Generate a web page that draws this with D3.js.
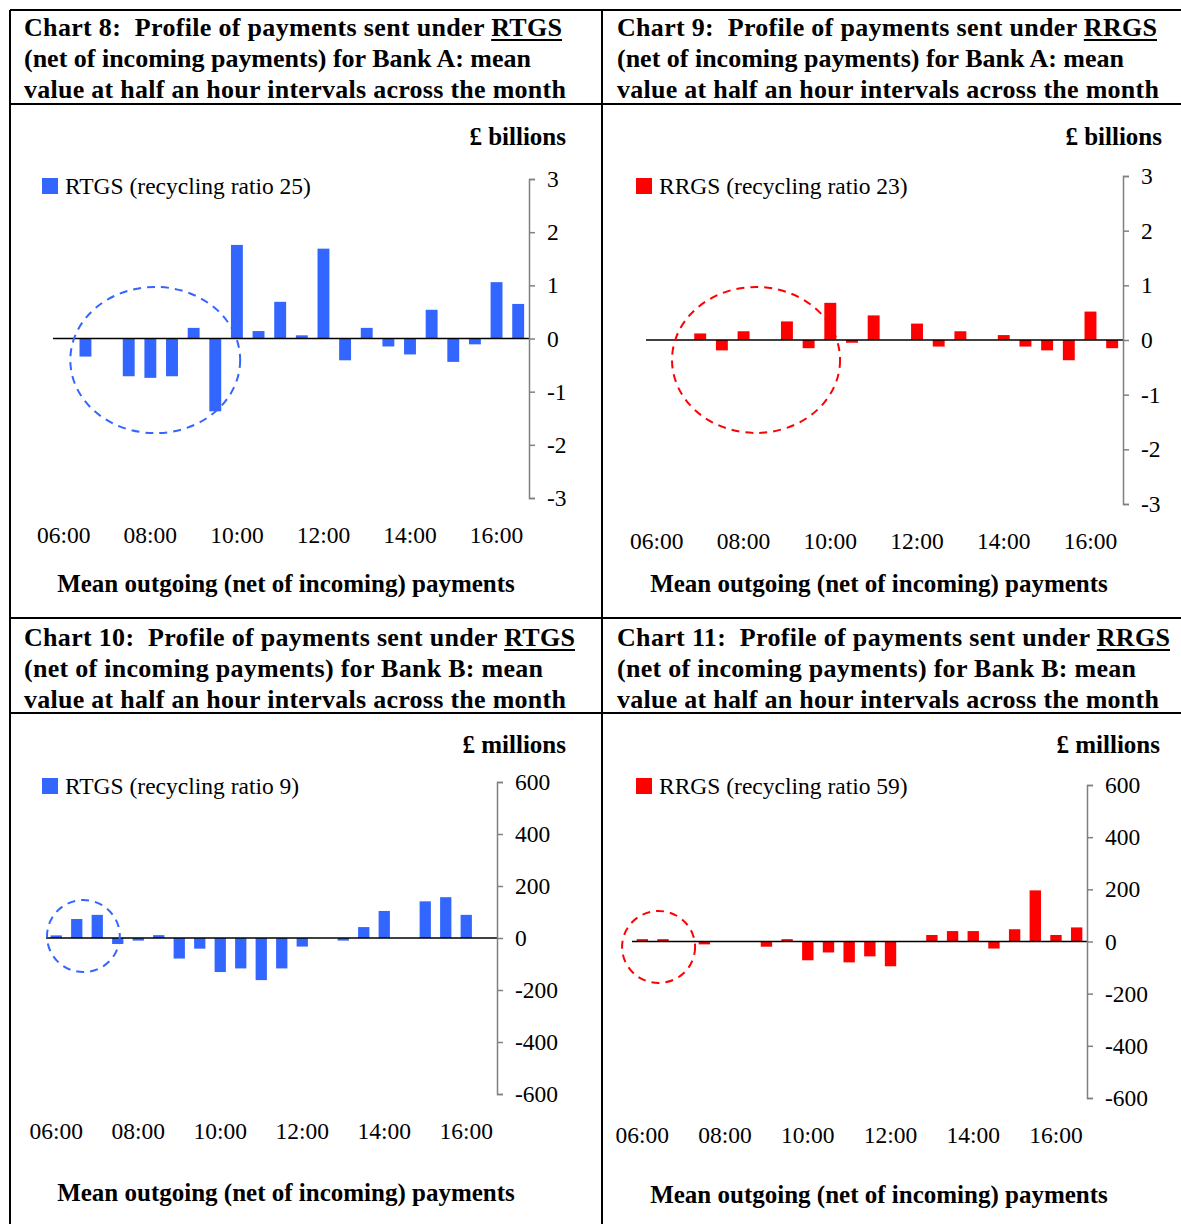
<!DOCTYPE html>
<html>
<head>
<meta charset="utf-8">
<script src="https://cdnjs.cloudflare.com/ajax/libs/d3/7.8.5/d3.min.js"></script>
<style>
  body { margin: 0; background: #fff; }
  svg { display: block; }
  .title { white-space: pre; }
</style>
</head>
<body>
<svg id="chart" width="1181" height="1224"></svg>
<script>
// Half-hour payment profiles for Bank A / Bank B, RTGS vs RRGS

const slots = ['06:00', '06:30', '07:00', '07:30', '08:00', '08:30', '09:00', '09:30', '10:00', '10:30', '11:00',
               '11:30', '12:00', '12:30', '13:00', '13:30', '14:00', '14:30', '15:00', '15:30', '16:00', '16:30'];
const timeLabels = ['06:00', '08:00', '10:00', '12:00', '14:00', '16:00'];

// £ billions
const rtgsBankA = [0, -0.34, 0, -0.71, -0.74, -0.71, 0.20, -1.37, 1.76, 0.14, 0.69,
                   0.06, 1.69, -0.41, 0.20, -0.15, -0.30, 0.54, -0.44, -0.11, 1.06, 0.65];
const rrgsBankA = [0, 0, 0.12, -0.19, 0.16, 0, 0.34, -0.15, 0.68, -0.05, 0.45,
                   0, 0.30, -0.12, 0.16, 0, 0.09, -0.12, -0.19, -0.37, 0.52, -0.15];
// £ millions
const rtgsBankB = [10, 73, 89, -23, -10, 11, -79, -41, -131, -117, -162,
                   -117, -33, 0, -10, 42, 104, 0, 141, 157, 89, 0];
const rrgsBankB = [9, 9, 0, -11, 0, 0, -20, 9, -72, -42, -80,
                   -57, -95, 0, 25, 40, 40, -27, 47, 196, 25, 54];

const ticksBillions = [-3, -2, -1, 0, 1, 2, 3];
const ticksMillions = [-600, -400, -200, 0, 200, 400, 600];

// dashed rings: slot-index span and value span
const ringRtgsA = { from: 0.8, to: 8.65, lo: -1.78, hi: 0.97 };
const ringRrgsA = { from: 1.2, to: 8.95, lo: -1.70, hi: 0.97 };
const ringRtgsB = { from: 0.05, to: 3.6, lo: -131, hi: 146 };
const ringRrgsB = { from: -0.48, to: 3.05, lo: -159, hi: 117 };

const BLUE = '#3366ff';
const RED = '#ff0000';
const SERIF = '"Liberation Serif", "Times New Roman", serif';

const panels = [
    { num: 8, word: 'RTGS', bank: 'A', unit: '£ billions', legend: 'RTGS (recycling ratio 25)', color: BLUE,
      values: rtgsBankA, ticks: ticksBillions, ring: ringRtgsA, titleW: [538, 507, 542],
      left: 0, top: 0, xr: [53, 529], yr: [498, 179], labelY: 535, unitX: 566, unitY: 136,
      legendX: 42, legendY: 186, captionX: 286, captionY: 583 },
    { num: 9, word: 'RRGS', bank: 'A', unit: '£ billions', legend: 'RRGS (recycling ratio 23)', color: RED,
      values: rrgsBankA, ticks: ticksBillions, ring: ringRrgsA, titleW: [540, 507, 542],
      left: 593, top: 0, xr: [646, 1123], yr: [504, 176], labelY: 541, unitX: 1162, unitY: 136,
      legendX: 636, legendY: 186, captionX: 879, captionY: 583 },
    { num: 10, word: 'RTGS', bank: 'B', unit: '£ millions', legend: 'RTGS (recycling ratio 9)', color: BLUE,
      values: rtgsBankB, ticks: ticksMillions, ring: ringRtgsB, titleW: [551, 519, 542],
      left: 0, top: 610, xr: [46, 497], yr: [1094, 782], labelY: 1131, unitX: 566, unitY: 744,
      legendX: 42, legendY: 786, captionX: 286, captionY: 1192 },
    { num: 11, word: 'RRGS', bank: 'B', unit: '£ millions', legend: 'RRGS (recycling ratio 59)', color: RED,
      values: rrgsBankB, ticks: ticksMillions, ring: ringRrgsB, titleW: [553, 519, 542],
      left: 593, top: 610, xr: [632, 1087], yr: [1098, 785], labelY: 1135, unitX: 1160, unitY: 744,
      legendX: 636, legendY: 786, captionX: 879, captionY: 1194 }
];

const svg = d3.select('#chart');

// Frame lines
const frame = svg.append('g').attr('stroke', '#000').attr('stroke-width', 2);
[10, 104, 618, 713].forEach(y => {
    frame.append('line').attr('x1', 10).attr('x2', 1181).attr('y1', y).attr('y2', y);
});
[10, 602].forEach(x => {
    frame.append('line').attr('x1', x).attr('x2', x).attr('y1', 10).attr('y2', 1224);
});

panels.forEach(p => {
    const g = svg.append('g');

    // Title (three lines, series name underlined)
    const titleX = p.left + 24;
    const base = p.top + 36;
    const lines = [
        `Chart ${p.num}:  Profile of payments sent under ${p.word}`,
        `(net of incoming payments) for Bank ${p.bank}: mean`,
        'value at half an hour intervals across the month'
    ];
    const titles = lines.map((line, i) => g.append('text')
        .attr('class', 'title')
        .attr('x', titleX).attr('y', base + 31 * i)
        .attr('font-family', SERIF).attr('font-size', 26).attr('font-weight', 'bold')
        .attr('textLength', p.titleW[i])
        .attr('lengthAdjust', 'spacing')
        .text(line));

    // underline the series name at the end of line one
    const t1 = titles[0].node();
    const n = lines[0].length;
    const uStart = t1.getStartPositionOfChar(n - p.word.length).x;
    const uEnd = t1.getEndPositionOfChar(n - 1).x;
    g.append('line')
        .attr('x1', uStart).attr('x2', uEnd)
        .attr('y1', base + 4).attr('y2', base + 4)
        .attr('stroke', '#000').attr('stroke-width', 2);

    // Unit label
    g.append('text')
        .attr('x', p.unitX).attr('y', p.unitY)
        .attr('dy', '0.35em')
        .attr('text-anchor', 'end')
        .attr('font-family', SERIF).attr('font-size', 25).attr('font-weight', 'bold')
        .text(p.unit);

    // Scales
    const x = d3.scaleBand()
        .domain(slots)
        .range(p.xr)
        .paddingInner(0.45)
        .paddingOuter(0.225);
    const slotPos = d3.scaleLinear().domain([0, slots.length]).range(p.xr);
    const y = d3.scaleLinear()
        .domain([p.ticks[0], p.ticks[p.ticks.length - 1]])
        .range(p.yr);

    // Bars
    g.selectAll('.bar')
        .data(p.values.map((v, i) => ({ slot: slots[i], v })))
        .enter()
        .append('rect')
        .attr('class', 'bar')
        .attr('x', d => x(d.slot))
        .attr('width', x.bandwidth())
        .attr('y', d => y(Math.max(0, d.v)))
        .attr('height', d => Math.abs(y(d.v) - y(0)))
        .attr('fill', p.color);

    // Zero line
    g.append('line')
        .attr('x1', p.xr[0]).attr('x2', p.xr[1])
        .attr('y1', y(0)).attr('y2', y(0))
        .attr('stroke', '#000').attr('stroke-width', 1.3);

    // Y axis on the right (plain hyphen for negatives, as in the original)
    const axis = g.append('g')
        .attr('transform', `translate(${p.xr[1]},0)`)
        .call(d3.axisRight(y).tickValues(p.ticks).tickSize(6).tickPadding(12).tickFormat(d => String(d)));
    axis.selectAll('path, line').attr('stroke', '#808080').attr('stroke-width', 1.5);
    axis.selectAll('text')
        .attr('font-family', SERIF).attr('font-size', 23.5).attr('fill', '#000');

    // Time labels
    g.selectAll('.time')
        .data(timeLabels)
        .enter()
        .append('text')
        .attr('x', d => x(d) + x.bandwidth() / 2)
        .attr('y', p.labelY)
        .attr('dy', '0.35em')
        .attr('text-anchor', 'middle')
        .attr('font-family', SERIF).attr('font-size', 23.5)
        .text(d => d);

    // Dashed ring
    const r = p.ring;
    g.append('ellipse')
        .attr('cx', (slotPos(r.from) + slotPos(r.to)) / 2)
        .attr('cy', (y(r.lo) + y(r.hi)) / 2)
        .attr('rx', Math.abs(slotPos(r.to) - slotPos(r.from)) / 2)
        .attr('ry', Math.abs(y(r.lo) - y(r.hi)) / 2)
        .attr('fill', 'none')
        .attr('stroke', p.color)
        .attr('stroke-width', 2)
        .attr('stroke-dasharray', '8,6');

    // Legend
    g.append('rect')
        .attr('x', p.legendX).attr('y', p.legendY - 8)
        .attr('width', 16).attr('height', 16)
        .attr('fill', p.color);
    g.append('text')
        .attr('x', p.legendX + 23).attr('y', p.legendY)
        .attr('dy', '0.35em')
        .attr('font-family', SERIF).attr('font-size', 23.5)
        .text(p.legend);

    // Caption
    g.append('text')
        .attr('x', p.captionX).attr('y', p.captionY)
        .attr('dy', '0.35em')
        .attr('text-anchor', 'middle')
        .attr('font-family', SERIF).attr('font-size', 25).attr('font-weight', 'bold')
        .text('Mean outgoing (net of incoming) payments');
});
</script>
</body>
</html>
